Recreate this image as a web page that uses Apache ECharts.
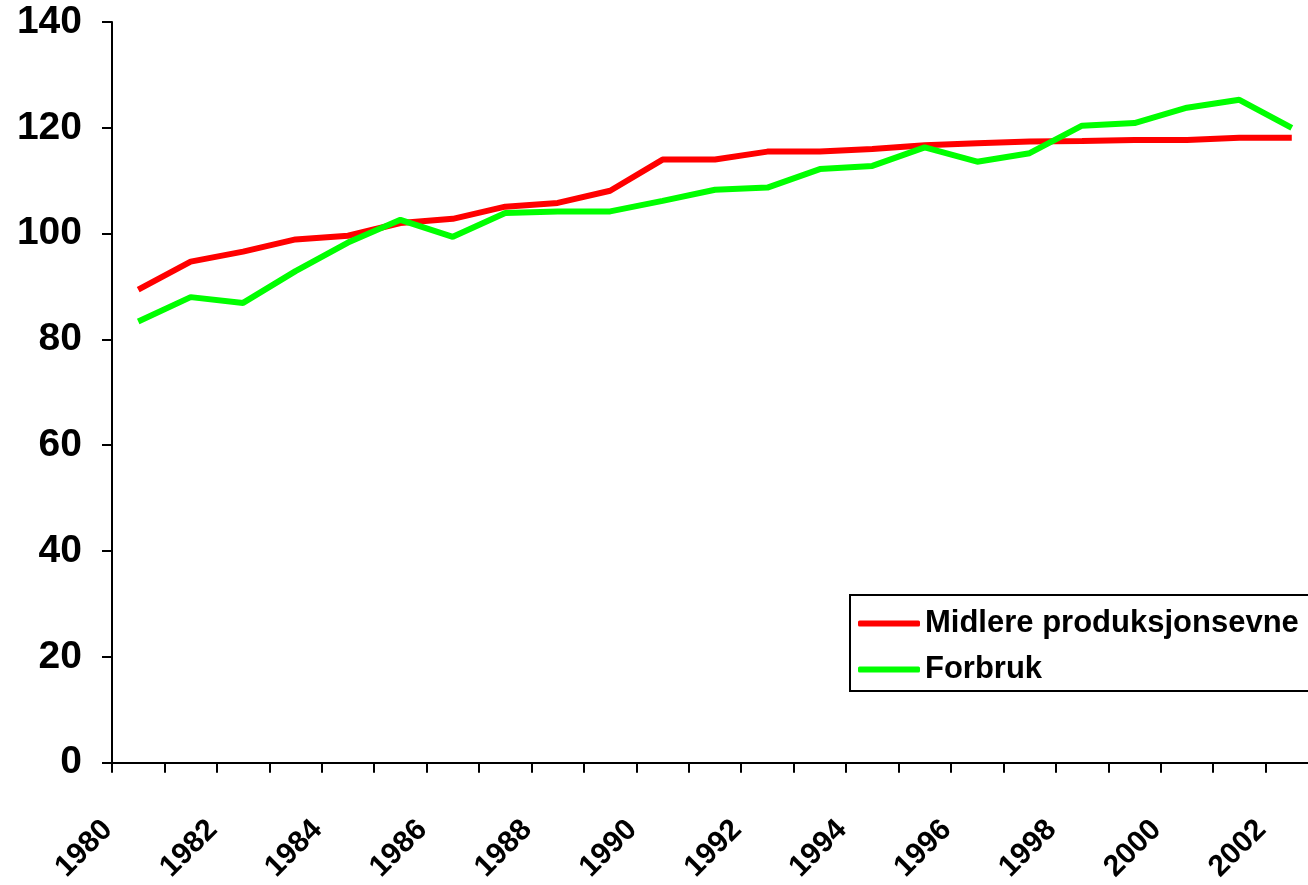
<!DOCTYPE html>
<html>
<head>
<meta charset="utf-8">
<script src="https://cdn.jsdelivr.net/npm/echarts@6/dist/echarts.min.js"></script>
<style>
  html, body { margin: 0; padding: 0; background: #fff; overflow: hidden; }
  /* axis runs past the right edge in the original, so the canvas is a bit wider than the window */
  #chart { width: 1318px; height: 885px; }
</style>
</head>
<body>
<div id="chart"></div>
<script>
const years = ['1980', '1981', '1982', '1983', '1984', '1985', '1986', '1987', '1988', '1989', '1990', '1991',
  '1992', '1993', '1994', '1995', '1996', '1997', '1998', '1999', '2000', '2001', '2002']

/* Midlere produksjonsevne */
const produksjonsevne = [89.4, 94.7, 96.6, 98.9, 99.6, 102.0, 102.8, 105.1, 105.8, 108.1, 114.0, 114.0,
  115.5, 115.5, 116.0, 116.7, 117.1, 117.4, 117.5, 117.7, 117.7, 118.1, 118.1]

/* Forbruk */
const forbruk = [83.4, 88.0, 86.9, 92.9, 98.3, 102.6, 99.4, 103.9, 104.2, 104.2, 106.2, 108.3,
  108.7, 112.2, 112.8, 116.3, 113.6, 115.2, 120.4, 120.9, 123.8, 125.3, 120.0]

const yTicks = { min: 0, max: 140, step: 20 }

const font = 'Arial, "Liberation Sans", sans-serif'

const myChart = echarts.init(document.getElementById('chart'))

const option = {
  animation: false,
  backgroundColor: '#fff',
  grid: {
    left: 112,
    right: 0,
    top: 22,
    bottom: 121,
    containLabel: false
  },
  legend: {
    orient: 'vertical',
    left: 850,
    top: 595,
    backgroundColor: '#fff',
    borderColor: '#000',
    borderWidth: 2,
    borderRadius: 0,
    padding: [13, 30, 6, 8],
    icon: 'roundRect',
    itemWidth: 62,
    itemHeight: 6,
    itemGap: 15,
    textStyle: {
      fontFamily: font,
      fontSize: 31,
      fontWeight: 'bold',
      color: '#000',
      lineHeight: 31
    },
    data: ['Midlere produksjonsevne', 'Forbruk']
  },
  xAxis: {
    type: 'category',
    data: years,
    boundaryGap: true,
    axisLine: { show: true, lineStyle: { color: '#000', width: 2 } },
    axisTick: { show: true, inside: false, alignWithLabel: false, interval: 0, length: 10, lineStyle: { color: '#000', width: 2 } },
    axisLabel: {
      interval: 1,
      rotate: 45,
      margin: 32,
      padding: [0, 43, 0, 0],
      fontFamily: font,
      fontSize: 30,
      fontWeight: 'bold',
      color: '#000'
    },
    splitLine: { show: false }
  },
  yAxis: {
    type: 'value',
    min: yTicks.min,
    max: yTicks.max,
    interval: yTicks.step,
    axisLine: { show: true, lineStyle: { color: '#000', width: 2 } },
    axisTick: { show: true, inside: false, length: 10, lineStyle: { color: '#000', width: 2 } },
    axisLabel: {
      margin: 30,
      fontFamily: font,
      fontSize: 39,
      fontWeight: 'bold',
      color: '#000'
    },
    splitLine: { show: false }
  },
  series: [
    {
      name: 'Midlere produksjonsevne',
      type: 'line',
      data: produksjonsevne,
      symbol: 'none',
      color: '#ff0000',
      lineStyle: { color: '#ff0000', width: 6 }
    },
    {
      name: 'Forbruk',
      type: 'line',
      data: forbruk,
      symbol: 'none',
      color: '#00ff00',
      lineStyle: { color: '#00ff00', width: 6 }
    }
  ]
}

myChart.setOption(option)
</script>
</body>
</html>
